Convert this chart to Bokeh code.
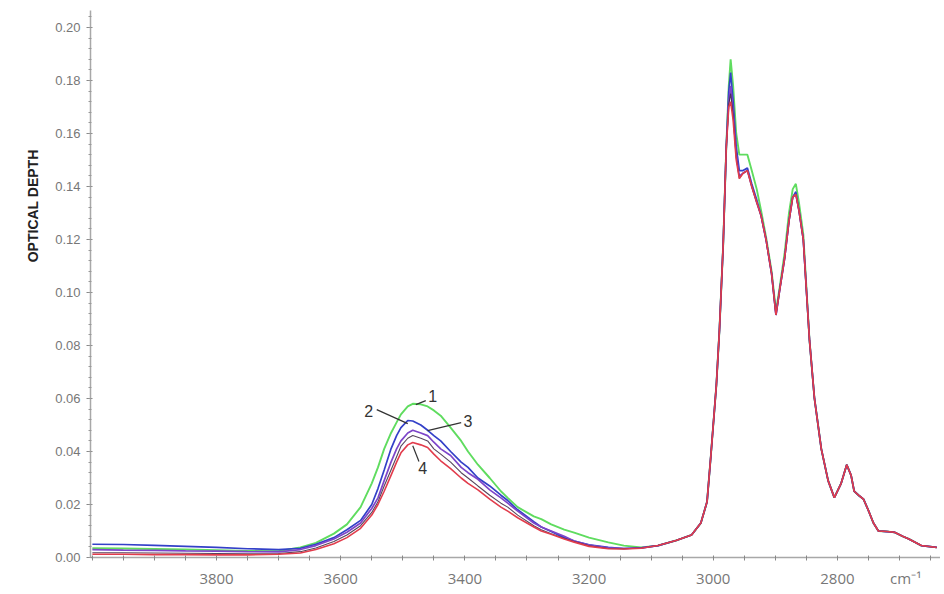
import math
from bokeh.plotting import figure
from bokeh.models import (Range1d, SingleIntervalTicker, FixedTicker, Label,
                          NumeralTickFormatter, Title)
from bokeh.embed import file_html
from bokeh.resources import INLINE

# ---- data ----
wavenumber = [
    4000, 3950, 3900, 3850, 3800, 3750, 3700,
    3665, 3640, 3611, 3590, 3568, 3550, 3540, 3530, 3519, 3510,
    3503, 3492, 3484, 3471, 3460, 3450, 3439, 3423, 3406, 3395,
    3379, 3360, 3342, 3331, 3315, 3289, 3277, 3261, 3240, 3224,
    3200, 3169, 3144, 3116, 3089,
    3060, 3035, 3020, 3010, 3004, 2995, 2990, 2984, 2979, 2975,
    2972, 2968, 2963, 2958, 2952, 2945, 2938, 2930, 2923, 2915,
    2906, 2899, 2893, 2885, 2878, 2872, 2867, 2862, 2855, 2845,
    2837, 2826, 2815, 2805, 2794, 2785, 2778, 2773, 2766, 2758,
    2750, 2742, 2734, 2720, 2708, 2695, 2685, 2665, 2640,
]

curve1_green = [
    .0035, .0034, .0032, .0030, .0028, .0025, .0024,
    .0038, .0055, .009, .0125, .019, .028, .034, .041, .047, .051,
    .054, .057, .058, .0578, .057, .0555, .0535, .049, .044, .040,
    .035, .030, .025, .0225, .019, .0155, .0145, .0125, .0105, .0094,
    .0075, .0057, .0045, .0038, .0045,
    .0064, .0085, .013, .021, .038, .065, .086, .118, .155, .178,
    .188, .178, .160, .152, .152, .152, .146, .139, .131, .121,
    .108, .093, .102, .115, .130, .139, .141, .134, .122, .082,
    .060, .041, .029, .0226, .028, .035, .031, .025, .0235, .022,
    .0177, .013, .010, .0098, .0095, .008, .007, .0045, .0038,
]

curve2_blue = [
    .0050, .0049, .0046, .0042, .0038, .0033, .0030,
    .0035, .005, .0075, .0105, .014, .020, .026, .033, .041, .046,
    .049, .0517, .0515, .050, .048, .046, .044, .040, .036, .034,
    .030, .027, .0235, .0215, .018, .0135, .0115, .0098, .0075, .0062,
    .0048, .0038, .0034, .0036, .0045,
    .0064, .0085, .013, .021, .038, .065, .086, .118, .155, .176,
    .183, .172, .155, .146, .146, .147, .141, .135, .129, .120,
    .107, .0915, .101, .113, .127, .136, .138, .131, .120, .082,
    .060, .041, .029, .0226, .028, .035, .031, .025, .0235, .022,
    .0177, .013, .010, .0098, .0095, .008, .007, .0045, .0038,
]

curve3_purple = [
    .0030, .0028, .0027, .0025, .0024, .0022, .0021,
    .003, .0045, .007, .0095, .013, .0185, .0225, .029, .036, .041,
    .044, .047, .048, .047, .046, .0435, .041, .0385, .034, .032,
    .0295, .0255, .0225, .0205, .0175, .013, .0115, .0100, .008, .0062,
    .0047, .0036, .0034, .0036, .0045,
    .0064, .0085, .013, .021, .038, .065, .086, .118, .155, .172,
    .178, .168, .152, .144, .145, .146, .140, .134, .129, .120,
    .107, .0915, .101, .113, .127, .136, .137, .131, .120, .082,
    .060, .041, .029, .0226, .028, .035, .031, .025, .0235, .022,
    .0177, .013, .010, .0098, .0095, .008, .007, .0045, .0038,
]

curve4_red = [
    .0012, .0012, .0011, .0011, .0010, .0010, .0012,
    .0017, .003, .0052, .0075, .011, .016, .020, .025, .031, .036,
    .0395, .0425, .0434, .0425, .0415, .039, .0365, .0335, .030, .028,
    .0255, .022, .019, .0175, .015, .0115, .010, .0088, .007, .0058,
    .0042, .0033, .0032, .0035, .0045,
    .0064, .0085, .013, .021, .038, .065, .086, .118, .155, .170,
    .172, .165, .150, .143, .145, .146, .140, .134, .129, .120,
    .107, .0915, .101, .113, .127, .136, .137, .131, .120, .082,
    .060, .041, .029, .0226, .028, .035, .031, .025, .0235, .022,
    .0177, .013, .010, .0098, .0095, .008, .007, .0045, .0038,
]

curve_dark = [
    .0018, .0018, .0017, .0016, .0015, .0014, .0015,
    .0022, .0036, .006, .0085, .012, .017, .021, .027, .033, .038,
    .042, .045, .046, .045, .044, .041, .039, .036, .032, .030,
    .027, .0235, .0205, .019, .016, .012, .0105, .009, .0072, .006,
    .0044, .0034, .0033, .0036, .0045,
    .0064, .0085, .013, .021, .038, .065, .086, .118, .155, .171,
    .175, .167, .151, .143, .145, .146, .140, .134, .129, .120,
    .107, .0915, .101, .113, .127, .136, .137, .131, .120, .082,
    .060, .041, .029, .0226, .028, .035, .031, .025, .0235, .022,
    .0177, .013, .010, .0098, .0095, .008, .007, .0045, .0038,
]

x_major_ticks = [3800, 3600, 3400, 3200, 3000, 2800]
unit_tick = 2690
x_tick_labels = {3800: "3800", 3600: "3600", 3400: "3400", 3200: "3200",
                 3000: "3000", 2800: "2800", unit_tick: "cm\u207b\u00b9"}
x_minor_ticks = list(range(2650, 4001, 50))

# ---- figure ----
p = figure(frame_width=850, frame_height=547,
           x_range=Range1d(4003, 2634), y_range=Range1d(0, 0.2064),
           output_backend="svg", toolbar_location=None,
           min_border_left=90, min_border_right=0, min_border_top=10,
           min_border_bottom=33, background_fill_color="white",
           border_fill_color="white")
p.outline_line_color = None
p.grid.visible = False

for ax in (p.xaxis[0], p.yaxis[0]):
    ax.axis_line_color = "#a8a8a8"
    ax.axis_line_width = 1.5
    ax.major_tick_line_color = "#888888"
    ax.minor_tick_line_color = "#999999"
    ax.major_tick_in = 2
    ax.major_tick_out = 4
    ax.minor_tick_in = 1
    ax.minor_tick_out = 2
    ax.major_label_text_color = "#777777"
    ax.major_label_standoff = 6

p.xaxis.ticker = FixedTicker(ticks=x_major_ticks + [unit_tick],
                             minor_ticks=x_minor_ticks)
p.xaxis.major_label_overrides = x_tick_labels
p.xaxis.major_tick_line_color = None
p.xaxis.minor_tick_in = 2
p.xaxis.minor_tick_out = 3
p.xaxis.minor_tick_line_color = "#888888"
p.xaxis.major_label_text_font = "Open Sans"
p.xaxis.major_label_text_font_size = "15px"

p.yaxis.ticker = SingleIntervalTicker(interval=0.02, num_minor_ticks=5)
p.yaxis.formatter = NumeralTickFormatter(format="0.00")
p.yaxis.major_label_text_font = "Liberation Sans"
p.yaxis.major_label_text_font_size = "13px"

ytitle = Title(text="OPTICAL DEPTH", align="right", offset=139,
               vertical_align="top", standoff=20,
               text_font="Liberation Sans", text_font_style="bold",
               text_font_size="14px", text_color="#222222")
p.add_layout(ytitle, "left")

series = [
    (curve1_green, "#5fdc5f", 1.9, 1.0),
    (curve2_blue, "#3340c8", 1.7, 1.0),
    (curve3_purple, "#7d45c9", 1.7, 1.0),
    (curve_dark, "#3a2440", 1.1, 0.85),
    (curve4_red, "#e23c4c", 1.6, 1.0),
]
for ys, col, w, a in series:
    p.line(wavenumber, ys, line_color=col, line_width=w, line_alpha=a)

# curve number labels with leader lines
leaders_x0 = [3463, 3542, 3406, 3474]
leaders_y0 = [0.0592, 0.0558, 0.0509, 0.0362]
leaders_x1 = [3479, 3492, 3460, 3484]
leaders_y1 = [0.0577, 0.0505, 0.0479, 0.0422]
p.segment(leaders_x0, leaders_y0, leaders_x1, leaders_y1,
          line_color="#333333", line_width=1.2)
for txt, x, y in [("1", 3452, 0.0611), ("2", 3555, 0.0554),
                  ("3", 3395, 0.0516), ("4", 3468, 0.0336)]:
    p.add_layout(Label(x=x, y=y, text=txt, text_align="center",
                       text_baseline="middle", text_font="Liberation Sans",
                       text_font_size="16px", text_color="#333333"))

open("out.html", "w").write(file_html(p, INLINE))
